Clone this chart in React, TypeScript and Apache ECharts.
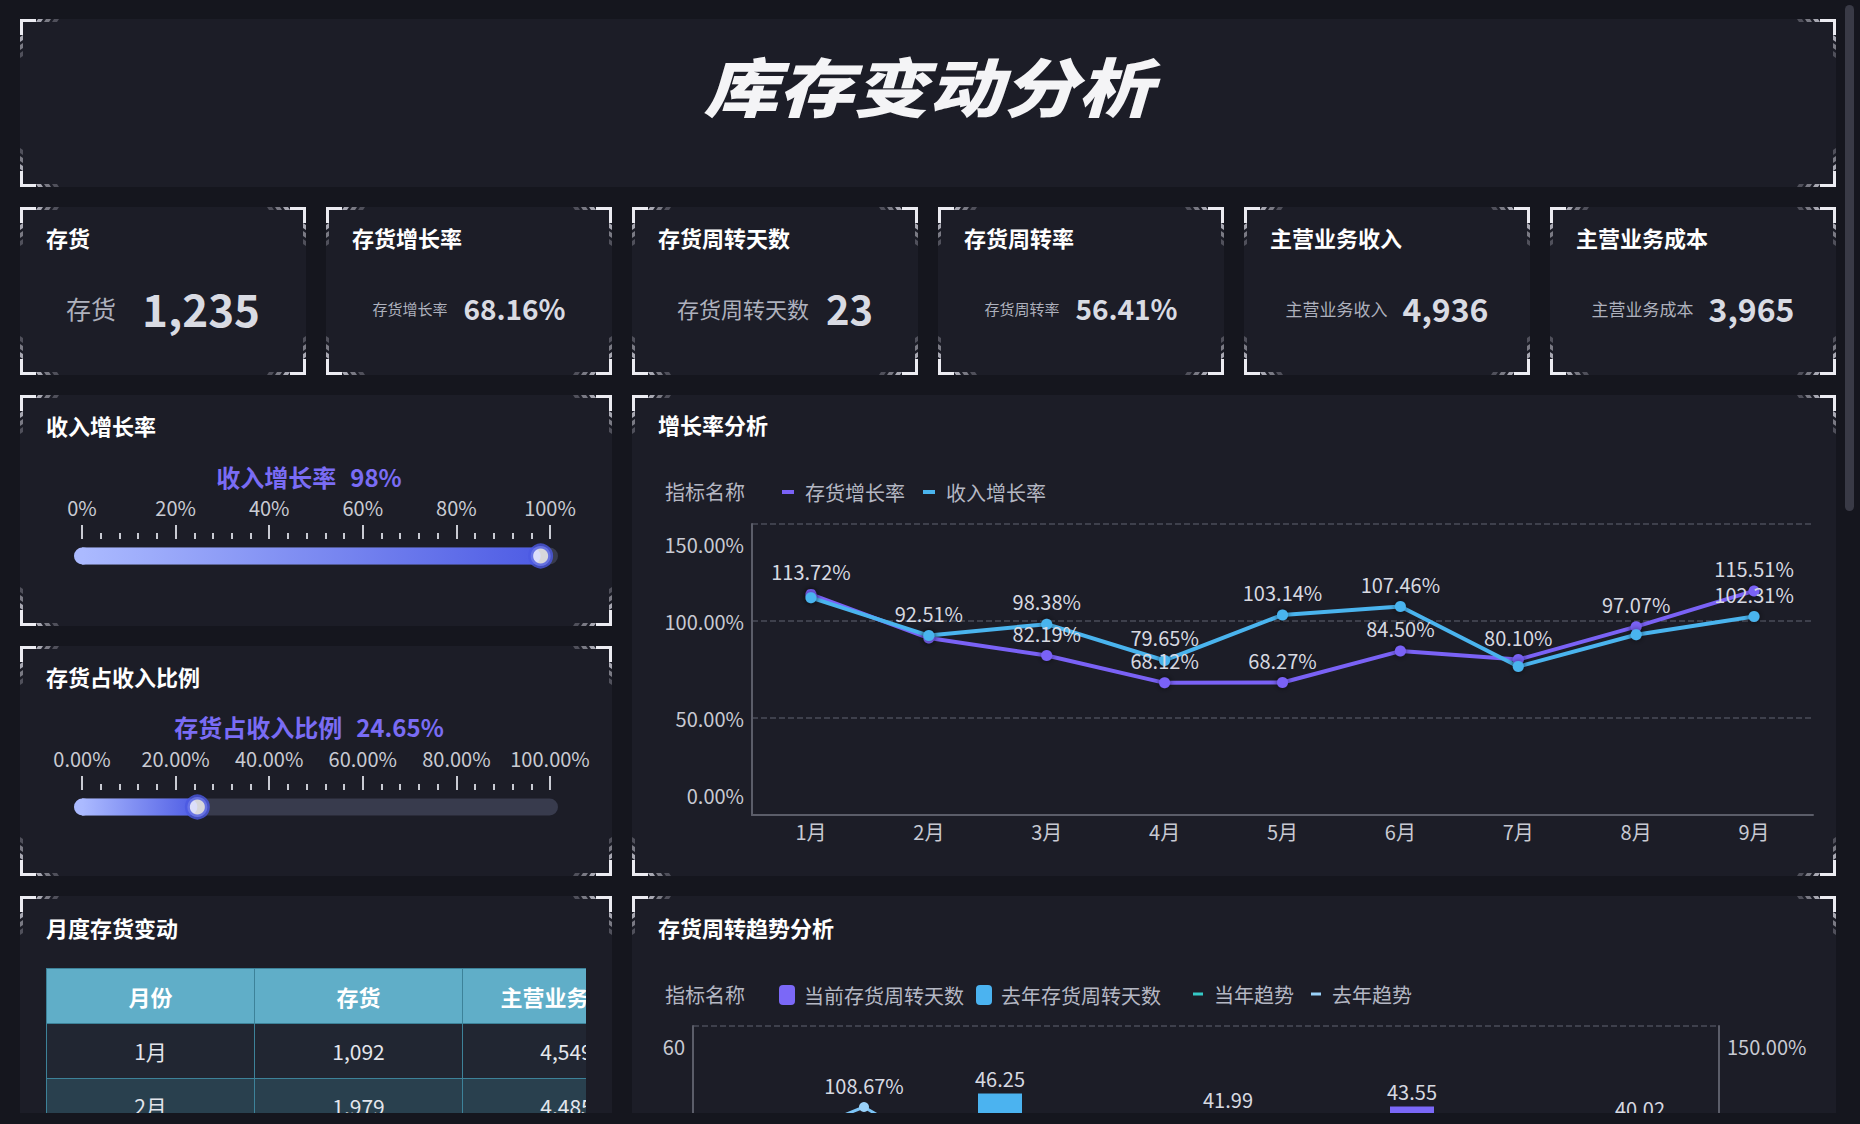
import React, { useEffect, useRef } from 'react';
import * as echarts from 'echarts';

const FONT = '"Noto Sans CJK SC", "Noto Sans", sans-serif';
const PAGE = '#15161e';
const PANEL = '#1c1d27';

// ---------- data ----------
const pageTitle = '库存变动分析';
const kpiTitles = ['存货', '存货增长率', '存货周转天数', '存货周转率', '主营业务收入', '主营业务成本'];
const kpiValues = [1235, 68.16, 23, 56.41, 4936, 3965];
const kpiIsPct = [false, true, false, true, false, false];

const revenueGrowthName = '收入增长率';
const revenueGrowthRate = 98;
const inventoryShareName = '存货占收入比例';
const inventoryShareRate = 24.65;

const months = ['1月', '2月', '3月', '4月', '5月', '6月', '7月', '8月', '9月'];
const inventoryGrowth = [113.72, 91.2, 82.19, 68.12, 68.27, 84.5, 80.1, 97.07, 115.51];
const revenueGrowth = [112.0, 92.51, 98.38, 79.65, 103.14, 107.46, 76.5, 92.9, 102.31];

const currentTurnoverDays = [32.5, 34.8, 35.2, 30.4, 33.1, 34.6, 43.55, 31.9, 40.02];
const lastYearTurnoverDays = [33.4, 31.8, 46.25, 35.0, 41.99, 34.2, 32.7, 35.9, 33.0];
const currentTrend = [78.5, 82.3, 71.6, 80.2, 75.4, 79.9, 84.1, 76.0, 81.3];
const lastYearTrend = [85.2, 108.67, 74.3, 79.1, 83.6, 72.5, 80.4, 77.8, 70.9];

const tableHeaders = ['月份', '存货', '主营业务收入', '主营业务成本'];
const tableInventory = [1092, 1979, 1546, 1318, 1402, 1187, 1650, 1275, 1235];
const tableRevenue = [4549, 4485, 4712, 4388, 4903, 4621, 4795, 4850, 4936];
const tableCost = [3612, 3580, 3790, 3455, 3921, 3702, 3866, 3899, 3965];

// ---------- styles (not data) ----------
const kpiStyle = [
  { l: 25, v: 44, gap: 26 },
  { l: 15, v: 28, gap: 16 },
  { l: 22, v: 40, gap: 17 },
  { l: 15, v: 28, gap: 16 },
  { l: 17, v: 32, gap: 15 },
  { l: 17, v: 32, gap: 15 },
];

const fmtInt = (v: number) => v.toLocaleString('en-US');
const fmtPct = (v: number) => v.toFixed(2) + '%';

function corners(x: number, y: number, w: number, h: number) {
  const els: any[] = [];
  const defs = [
    [x, y, 1, 1],
    [x + w, y, -1, 1],
    [x, y + h, 1, -1],
    [x + w, y + h, -1, -1],
  ];
  const ops = [0.75, 0.5, 0.28];
  for (const [cx, cy, dx, dy] of defs) {
    els.push({
      type: 'polyline',
      silent: true,
      shape: { points: [[cx + dx * 1.5, cy + dy * 16], [cx + dx * 1.5, cy + dy * 1.5], [cx + dx * 16, cy + dy * 1.5]] },
      style: { stroke: '#ececf2', lineWidth: 3, fill: null },
    });
    for (let i = 0; i < 3; i++) {
      const s = 18 + i * 8;
      const fill = `rgba(215,215,225,${ops[i]})`;
      els.push({
        type: 'polygon',
        silent: true,
        shape: { points: [[cx + dx * s, cy], [cx + dx * (s + 5), cy], [cx + dx * (s + 3), cy + dy * 3], [cx + dx * (s - 2), cy + dy * 3]] },
        style: { fill },
      });
      els.push({
        type: 'polygon',
        silent: true,
        shape: { points: [[cx, cy + dy * s], [cx, cy + dy * (s + 5)], [cx + dx * 3, cy + dy * (s + 3)], [cx + dx * 3, cy + dy * (s - 2)]] },
        style: { fill },
      });
    }
  }
  return els;
}

function panel(x: number, y: number, w: number, h: number) {
  return [
    { type: 'rect', silent: true, shape: { x, y, width: w, height: h }, style: { fill: PANEL } },
    ...corners(x, y, w, h),
  ];
}

function text(x: number, y: number, t: string, extra: any = {}) {
  return {
    type: 'text',
    silent: true,
    x,
    y,
    style: {
      text: t,
      fontFamily: FONT,
      fontSize: 22,
      fontWeight: 'bold',
      fill: '#ffffff',
      align: 'left',
      textAlign: 'left',
      verticalAlign: 'middle',
      textVerticalAlign: 'middle',
      ...extra,
    },
  };
}

function buildOption() {
  const graphic: any[] = [];
  // panels
  graphic.push(...panel(20, 19, 1816, 168));
  for (let i = 0; i < 6; i++) graphic.push(...panel(20 + i * 306, 207, 286, 168));
  graphic.push(...panel(20, 395, 592, 231));
  graphic.push(...panel(20, 646, 592, 230));
  graphic.push(...panel(632, 395, 1204, 481));
  graphic.push(...panel(20, 896, 592, 300));
  graphic.push(...panel(632, 896, 1204, 300));

  // page title
  graphic.push({
    type: 'text',
    silent: true,
    x: 928,
    y: 84,
    scaleX: 1.17,
    style: {
      text: pageTitle,
      fontFamily: FONT,
      fontSize: 64,
      fontWeight: 900,
      fontStyle: 'italic',
      fill: '#f4f4f6',
      align: 'center',
      textAlign: 'center',
      verticalAlign: 'middle',
      textVerticalAlign: 'middle',
    },
  });

  // KPI cards
  for (let i = 0; i < 6; i++) {
    const x0 = 20 + i * 306;
    const st = kpiStyle[i];
    graphic.push(text(x0 + 26, 237, kpiTitles[i]));
    const v = kpiIsPct[i] ? fmtPct(kpiValues[i]) : fmtInt(kpiValues[i]);
    graphic.push({
      type: 'text',
      silent: true,
      x: x0 + 143,
      y: 308,
      style: {
        text: `{l|${kpiTitles[i]}}{v|${v}}`,
        align: 'center',
        textAlign: 'center',
        verticalAlign: 'middle',
        textVerticalAlign: 'middle',
        fontFamily: FONT,
        rich: {
          l: { fontFamily: FONT, fontSize: st.l, fill: '#aeb1bd', color: '#aeb1bd', verticalAlign: 'middle' },
          v: {
            fontFamily: FONT,
            fontSize: st.v,
            fontWeight: 'bold',
            fill: '#d9dbe3',
            color: '#d9dbe3',
            padding: [0, 0, 0, st.gap],
            verticalAlign: 'middle',
          },
        },
      },
    });
  }

  // panel titles
  graphic.push(text(46, 425, '收入增长率'));
  graphic.push(text(46, 676, '存货占收入比例'));
  graphic.push(text(658, 424, '增长率分析'));
  graphic.push(text(46, 927, '月度存货变动'));
  graphic.push(text(658, 927, '存货周转趋势分析'));

  // gauge headers
  const gaugeHeader = (y: number, name: string, val: string) => ({
    type: 'text',
    silent: true,
    x: 309,
    y,
    style: {
      text: `{a|${name}}{b|${val}}`,
      align: 'center',
      textAlign: 'center',
      verticalAlign: 'middle',
      textVerticalAlign: 'middle',
      rich: {
        a: { fontFamily: FONT, fontSize: 24, fontWeight: 'bold', fill: '#7a6cf4', color: '#7a6cf4' },
        b: { fontFamily: FONT, fontSize: 24, fontWeight: 'bold', fill: '#7a6cf4', color: '#7a6cf4', padding: [0, 0, 0, 14] },
      },
    },
  });
  graphic.push(gaugeHeader(476, revenueGrowthName, revenueGrowthRate + '%'));
  graphic.push(gaugeHeader(726, inventoryShareName, fmtPct(inventoryShareRate)));

  // gauge tracks
  for (const cy of [556, 807]) {
    graphic.push({ type: 'rect', silent: true, shape: { x: 74, y: cy - 8.5, width: 484, height: 17, r: 8.5 }, style: { fill: '#383b4d' } });
    graphic.push({ type: 'rect', silent: true, shape: { x: 74, y: cy - 8.5, width: 18, height: 17, r: 8.5 }, style: { fill: '#abbaff' } });
  }

  // legend captions
  graphic.push(text(665, 491, '指标名称', { fontWeight: 'normal', fontSize: 20, fill: '#b4b7c3' }));
  graphic.push(text(665, 994, '指标名称', { fontWeight: 'normal', fontSize: 20, fill: '#b4b7c3' }));

  const tickColor = '#c9cbd3';
  const gaugeX = (gridIndex: number, fmt: (v: number) => string) => ({
    gridIndex,
    type: 'value',
    position: 'top',
    min: 0,
    max: 100,
    interval: 20,
    axisLine: { show: false },
    splitLine: { show: false },
    axisTick: { show: true, length: 14, lineStyle: { color: tickColor, width: 2 } },
    minorTick: { show: true, splitNumber: 5, length: 6, lineStyle: { color: tickColor, width: 2 } },
    axisLabel: { color: tickColor, fontSize: 20, margin: 22, fontFamily: FONT, formatter: fmt },
  });
  const gaugeY = (gridIndex: number) => ({ gridIndex, type: 'category', data: ['v'], show: false });

  const fillGradient = () =>
    new echarts.graphic.LinearGradient(0, 0, 1, 0, [
      { offset: 0, color: '#abbaff' },
      { offset: 1, color: '#4e5ce4' },
    ]);

  const axisLineColor = '#5b5d69';
  const labelColor = '#c8cad3';
  const edgeRich = {
    mx: { padding: [40, 0, 0, 0], fontSize: 20, color: labelColor, fontFamily: FONT },
    mn: { padding: [0, 0, 40, 0], fontSize: 20, color: labelColor, fontFamily: FONT },
  };
  const edgeFmt = (min: number, max: number, f: (v: number) => string) => (v: number) => {
    const s = f(v);
    if (v === max) return `{mx|${s}}`;
    if (v === min) return `{mn|${s}}`;
    return s;
  };

  const labelHidden = (a: number[], b: number[], i: number) => Math.abs(a[i] - b[i]) < 8 && a[i] < b[i];

  const option: any = {
    animation: false,
    backgroundColor: 'transparent',
    textStyle: { fontFamily: FONT },
    graphic: { elements: graphic },
    grid: [
      { left: 82, top: 539, width: 468, height: 34 },
      { left: 82, top: 790, width: 468, height: 34 },
      { left: 752, top: 524, width: 1061, height: 291 },
      { left: 693, top: 1026, width: 1026, height: 294 },
    ],
    legend: [
      {
        data: ['存货增长率', '收入增长率'],
        left: 777,
        top: 477,
        icon: 'rect',
        itemWidth: 12,
        itemHeight: 4,
        itemGap: 18,
        textStyle: { color: '#b4b7c3', fontSize: 20, fontFamily: FONT, padding: [0, 0, 0, 6] },
      },
      {
        data: ['当前存货周转天数', '去年存货周转天数'],
        left: 774,
        top: 980,
        icon: 'roundRect',
        itemWidth: 16,
        itemHeight: 20,
        itemGap: 12,
        textStyle: { color: '#b4b7c3', fontSize: 20, fontFamily: FONT, padding: [0, 0, 0, 4] },
      },
      {
        data: ['当年趋势', '去年趋势'],
        left: 1188,
        top: 979,
        icon: 'rect',
        itemWidth: 10,
        itemHeight: 3,
        itemGap: 17,
        textStyle: { color: '#b4b7c3', fontSize: 20, fontFamily: FONT, padding: [0, 0, 0, 6] },
      },
    ],
    xAxis: [
      gaugeX(0, (v: number) => v + '%'),
      gaugeX(1, (v: number) => v.toFixed(2) + '%'),
      {
        gridIndex: 2,
        type: 'category',
        data: months,
        boundaryGap: true,
        axisLine: { lineStyle: { color: axisLineColor, width: 2 } },
        axisTick: { show: false },
        axisLabel: { color: labelColor, fontSize: 20, margin: 6, fontFamily: FONT },
      },
      {
        gridIndex: 3,
        type: 'category',
        data: months,
        boundaryGap: true,
        axisLine: { lineStyle: { color: axisLineColor, width: 2 } },
        axisTick: { show: false },
        axisLabel: { color: labelColor, fontSize: 20, margin: 6, fontFamily: FONT },
      },
    ],
    yAxis: [
      gaugeY(0),
      gaugeY(1),
      {
        gridIndex: 2,
        type: 'value',
        min: 0,
        max: 150,
        interval: 50,
        axisLine: { show: true, lineStyle: { color: axisLineColor, width: 2 } },
        axisTick: { show: false },
        splitLine: { lineStyle: { color: '#4a4c59', type: 'dashed', width: 1.5 } },
        axisLabel: { color: labelColor, fontSize: 20, margin: 8, fontFamily: FONT, formatter: edgeFmt(0, 150, fmtPct), rich: edgeRich },
      },
      {
        gridIndex: 3,
        type: 'value',
        min: 0,
        max: 60,
        interval: 20,
        axisLine: { show: true, lineStyle: { color: axisLineColor, width: 2 } },
        axisTick: { show: false },
        splitLine: { lineStyle: { color: '#4a4c59', type: 'dashed', width: 1.5 } },
        axisLabel: { color: labelColor, fontSize: 20, margin: 8, fontFamily: FONT, formatter: edgeFmt(0, 60, (v: number) => String(v)), rich: edgeRich },
      },
      {
        gridIndex: 3,
        type: 'value',
        position: 'right',
        min: 0,
        max: 150,
        interval: 50,
        axisLine: { show: true, lineStyle: { color: axisLineColor, width: 2 } },
        axisTick: { show: false },
        splitLine: { show: false },
        axisLabel: { color: labelColor, fontSize: 20, margin: 8, fontFamily: FONT, formatter: edgeFmt(0, 150, fmtPct), rich: edgeRich },
      },
    ],
    series: [
      // gauge 1
      {
        type: 'bar',
        xAxisIndex: 0,
        yAxisIndex: 0,
        data: [revenueGrowthRate],
        barWidth: 17,
        silent: true,
        itemStyle: { color: fillGradient(), borderRadius: [0, 8.5, 8.5, 0] },
      },
      {
        type: 'scatter',
        xAxisIndex: 0,
        yAxisIndex: 0,
        data: [[revenueGrowthRate, 'v']],
        symbolSize: 20,
        silent: true,
        z: 5,
        itemStyle: { color: '#ffffff', borderColor: '#4b59e2', borderWidth: 5 },
      },
      // gauge 2
      {
        type: 'bar',
        xAxisIndex: 1,
        yAxisIndex: 1,
        data: [inventoryShareRate],
        barWidth: 17,
        silent: true,
        itemStyle: { color: fillGradient(), borderRadius: [0, 8.5, 8.5, 0] },
      },
      {
        type: 'scatter',
        xAxisIndex: 1,
        yAxisIndex: 1,
        data: [[inventoryShareRate, 'v']],
        symbolSize: 20,
        silent: true,
        z: 5,
        itemStyle: { color: '#ffffff', borderColor: '#4b59e2', borderWidth: 5 },
      },
      // growth chart
      {
        name: '存货增长率',
        type: 'line',
        xAxisIndex: 2,
        yAxisIndex: 2,
        data: inventoryGrowth.map((v, i) =>
          labelHidden(inventoryGrowth, revenueGrowth, i) ? { value: v, label: { show: false } } : v
        ),
        symbol: 'circle',
        symbolSize: 11,
        color: '#7a62f6',
        lineStyle: { width: 4, color: '#7a62f6' },
        itemStyle: { color: '#7a62f6', shadowBlur: 6, shadowColor: 'rgba(0,0,0,0.6)' },
        label: { show: true, position: 'top', distance: 7, color: '#d7d9e1', fontSize: 20, fontFamily: FONT, formatter: (p: any) => fmtPct(p.value) },
      },
      {
        name: '收入增长率',
        type: 'line',
        xAxisIndex: 2,
        yAxisIndex: 2,
        data: revenueGrowth.map((v, i) =>
          labelHidden(revenueGrowth, inventoryGrowth, i) ? { value: v, label: { show: false } } : v
        ),
        symbol: 'circle',
        symbolSize: 11,
        color: '#4ab4ee',
        lineStyle: { width: 4, color: '#4ab4ee' },
        itemStyle: { color: '#4ab4ee', shadowBlur: 6, shadowColor: 'rgba(0,0,0,0.6)' },
        label: { show: true, position: 'top', distance: 7, color: '#d7d9e1', fontSize: 20, fontFamily: FONT, formatter: (p: any) => fmtPct(p.value) },
      },
      // turnover chart
      {
        name: '当前存货周转天数',
        type: 'bar',
        xAxisIndex: 3,
        yAxisIndex: 3,
        data: currentTurnoverDays,
        barWidth: 44,
        barGap: '0%',
        color: '#7b68f7',
        itemStyle: { color: '#7b68f7' },
        label: { show: true, position: 'top', distance: 5, color: '#d7d9e1', fontSize: 20, fontFamily: FONT, formatter: (p: any) => p.value.toFixed(2) },
      },
      {
        name: '去年存货周转天数',
        type: 'bar',
        xAxisIndex: 3,
        yAxisIndex: 3,
        data: lastYearTurnoverDays,
        barWidth: 44,
        barGap: '0%',
        color: '#4bb3f0',
        itemStyle: { color: '#4bb3f0' },
        label: { show: true, position: 'top', distance: 5, color: '#d7d9e1', fontSize: 20, fontFamily: FONT, formatter: (p: any) => p.value.toFixed(2) },
      },
      {
        name: '当年趋势',
        type: 'line',
        xAxisIndex: 3,
        yAxisIndex: 4,
        data: currentTrend,
        symbol: 'circle',
        symbolSize: 10,
        color: '#35c9c6',
        lineStyle: { width: 3, color: '#35c9c6' },
        itemStyle: { color: '#35c9c6' },
        label: { show: true, position: 'top', distance: 7, color: '#d7d9e1', fontSize: 20, fontFamily: FONT, formatter: (p: any) => fmtPct(p.value) },
      },
      {
        name: '去年趋势',
        type: 'line',
        xAxisIndex: 3,
        yAxisIndex: 4,
        data: lastYearTrend,
        symbol: 'circle',
        symbolSize: 10,
        color: '#7cc4f6',
        lineStyle: { width: 3, color: '#7cc4f6' },
        itemStyle: { color: '#9ad2fa' },
        label: { show: true, position: 'top', distance: 7, color: '#d7d9e1', fontSize: 20, fontFamily: FONT, formatter: (p: any) => fmtPct(p.value) },
      },
    ],
  };
  return option;
}

function MonthlyTable() {
  const colW = 207;
  const border = '1px solid #3d8299';
  const headCell: React.CSSProperties = {
    width: colW,
    height: 54,
    background: '#60aec8',
    color: '#ffffff',
    fontWeight: 'bold',
    fontSize: 22,
    textAlign: 'center',
    border,
    padding: 0,
    whiteSpace: 'nowrap',
    overflow: 'hidden',
  };
  const cell = (odd: boolean): React.CSSProperties => ({
    width: colW,
    height: 54,
    background: odd ? '#212632' : '#29404e',
    color: '#e4e6ec',
    fontSize: 21,
    textAlign: 'center',
    border,
    padding: 0,
    whiteSpace: 'nowrap',
  });
  return (
    <div style={{ position: 'absolute', left: 46, top: 968, width: 540, height: 145, overflow: 'hidden' }}>
      <table style={{ borderCollapse: 'collapse', tableLayout: 'fixed', width: colW * tableHeaders.length, fontFamily: FONT }}>
        <thead>
          <tr>
            {tableHeaders.map((h) => (
              <th key={h} style={headCell}>{h}</th>
            ))}
          </tr>
        </thead>
        <tbody>
          {months.map((m, i) => (
            <tr key={m}>
              <td style={cell(i % 2 === 0)}>{m}</td>
              <td style={cell(i % 2 === 0)}>{fmtInt(tableInventory[i])}</td>
              <td style={cell(i % 2 === 0)}>{fmtInt(tableRevenue[i])}</td>
              <td style={cell(i % 2 === 0)}>{fmtInt(tableCost[i])}</td>
            </tr>
          ))}
        </tbody>
      </table>
    </div>
  );
}

export default function App() {
  const ref = useRef<HTMLDivElement>(null);
  useEffect(() => {
    if (!ref.current) return;
    const chart = echarts.init(ref.current, null, { renderer: 'svg' });
    chart.setOption(buildOption());
    return () => chart.dispose();
  }, []);
  return (
    <div
      style={{
        position: 'fixed',
        left: 0,
        top: 0,
        width: 1860,
        height: 1124,
        background: PAGE,
        overflow: 'hidden',
        fontFamily: FONT,
      }}
    >
      <div style={{ position: 'absolute', left: 0, top: 0, width: 1860, height: 1113, overflow: 'hidden' }}>
        <div ref={ref} style={{ position: 'absolute', left: 0, top: 0, width: 1860, height: 1400 }} />
        <MonthlyTable />
      </div>
      <div style={{ position: 'absolute', left: 1845, top: 5, width: 9, height: 506, background: '#393a46', borderRadius: 5 }} />
    </div>
  );
}
